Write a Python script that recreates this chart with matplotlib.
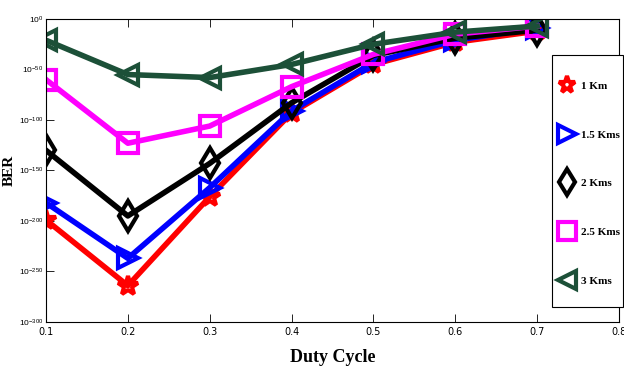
import numpy as np
import matplotlib
matplotlib.use('Agg')
import matplotlib.pyplot as plt
from matplotlib.patches import Rectangle
from matplotlib.ticker import FixedLocator, FixedFormatter

duty = [0.1, 0.2, 0.3, 0.4, 0.5, 0.6, 0.7]

# BER exponents (log10)
ber_1km = [-199, -264, -176, -93, -45, -23, -12]
ber_15km = [-182, -237, -167, -91, -43, -21, -9]
ber_2km = [-130, -195, -143, -83, -36, -19, -11]
ber_25km = [-60, -123, -106, -67, -35, -15, -7]
ber_3km = [-21, -55, -58, -45, -25, -13, -7]

labels = ['1 Km', '1.5 Kms', '2 Kms', '2.5 Kms', '3 Kms']
xticks = [0.1, 0.2, 0.3, 0.4, 0.5, 0.6, 0.7, 0.8]
yexp = [0, -50, -100, -150, -200, -250, -300]

plt.rcParams['mathtext.fontset'] = 'custom'
plt.rcParams['mathtext.rm'] = 'Liberation Sans'
plt.rcParams['mathtext.it'] = 'Liberation Sans'

fig = plt.figure(figsize=(6.24, 3.69), dpi=100)
ax = fig.add_axes([0.0737, 0.1274, 0.9183, 0.8211])

series = [ber_1km, ber_15km, ber_2km, ber_25km, ber_3km]
colors = ['#ff0000', '#0000ff', '#000000', '#ff00ff', '#1c5038']
markers = ['*', '>', 'd', 's', '<']
for vals, c, m, lab in zip(series, colors, markers, labels):
    y = 10.0 ** np.array(vals, dtype=float)
    ax.plot(duty, y, color=c, marker=m, lw=4, ms=15, mew=3,
            mfc='none', mec=c, label=lab)

ax.set_yscale('log')
ax.set_xlim(0.1, 0.8)
ax.set_ylim(1e-300, 1)
ax.yaxis.set_major_locator(FixedLocator([10.0 ** e for e in yexp]))
ax.yaxis.set_major_formatter(FixedFormatter(['$10^{%d}$' % e for e in yexp]))
ax.yaxis.set_minor_locator(FixedLocator([]))
ax.set_xticks(xticks)
ax.set_xticklabels(['%.1f' % t for t in xticks])
ax.tick_params(direction='in', top=True, right=True, labelsize=7, length=6, width=0.6)
ax.tick_params(axis='y', pad=2, labelsize=6)
for s in ax.spines.values():
    s.set_linewidth(0.8)

ax.set_xlabel('Duty Cycle', family='Liberation Serif', weight='bold', fontsize=13, labelpad=9)
ax.set_ylabel('BER', family='Liberation Serif', weight='bold', fontsize=11)
ax.yaxis.set_label_coords(-0.052, 0.5)

# legend box drawn in figure pixels, entries placed inside
fig.patches.append(Rectangle((552 / 624, 1 - 307 / 369), 71 / 624, 252 / 369,
                             transform=fig.transFigure, facecolor='white',
                             edgecolor='black', lw=0.8, zorder=5))
leg = fig.legend(loc='upper left', bbox_to_anchor=(0.901, 0.78), frameon=False,
                 handlelength=0.9, handletextpad=0.8, markerscale=0.85,
                 labelspacing=3.5, borderpad=0, borderaxespad=0,
                 prop={'family': 'Liberation Serif', 'weight': 'bold', 'size': 8})
leg.set_zorder(6)
for h in leg.legend_handles:
    h.set_linestyle('none')

fig.savefig('out.png', dpi=100)
